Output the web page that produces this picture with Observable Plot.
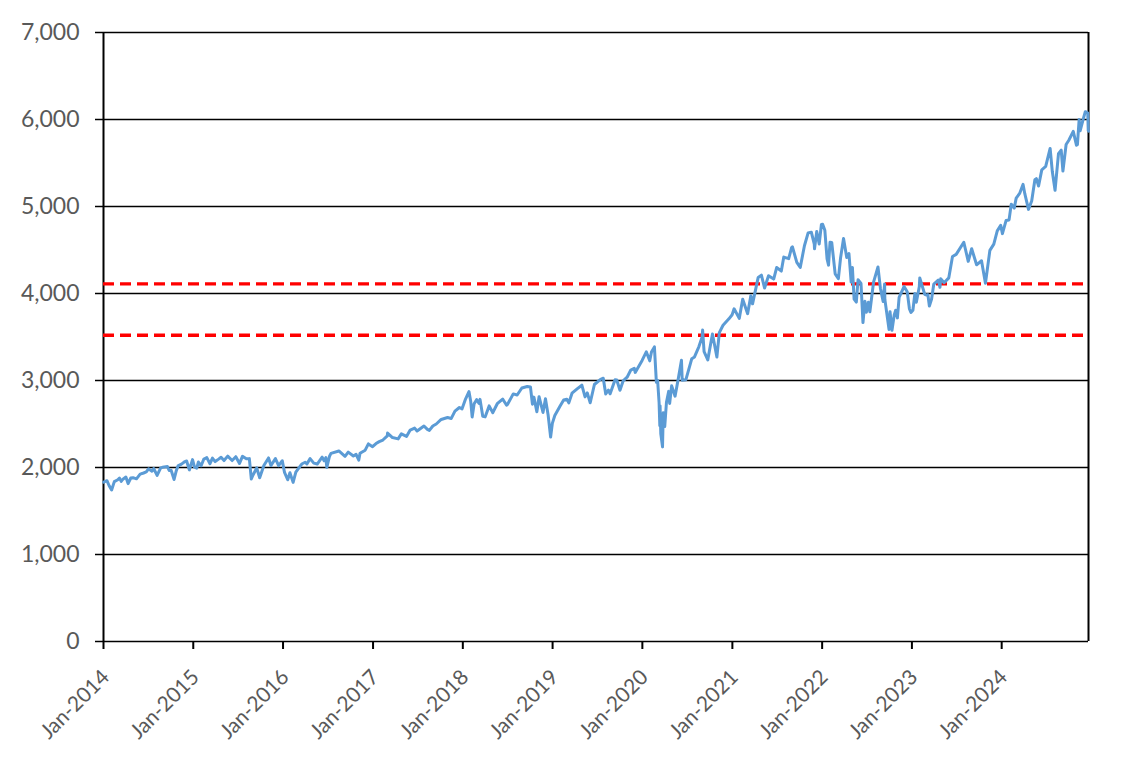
<!DOCTYPE html>
<html><head><meta charset="utf-8">
<script src="https://cdn.jsdelivr.net/npm/d3@7"></script>
<script src="https://cdn.jsdelivr.net/npm/@observablehq/plot@0.6"></script>
<style>body{margin:0;background:#fff}</style>
</head><body><div id="chart"></div>
<script>
const dates = [
"2014-01-02","2014-01-15","2014-01-24","2014-02-03","2014-02-14","2014-02-28","2014-03-07","2014-03-14","2014-03-21","2014-04-02","2014-04-11","2014-04-22","2014-05-01","2014-05-15","2014-05-30","2014-06-13","2014-06-24","2014-07-03","2014-07-17","2014-07-24","2014-08-07","2014-08-21","2014-08-29","2014-09-18","2014-09-25","2014-10-03","2014-10-15","2014-10-24","2014-10-31","2014-11-14","2014-11-28","2014-12-05","2014-12-16","2014-12-29",
"2015-01-06","2015-01-15","2015-01-22","2015-02-02","2015-02-13","2015-02-25","2015-03-10","2015-03-20","2015-03-31","2015-04-14","2015-04-24","2015-05-06","2015-05-21","2015-06-08","2015-06-23","2015-07-08","2015-07-20","2015-08-05","2015-08-17","2015-08-25","2015-09-01","2015-09-16","2015-09-28","2015-10-15","2015-11-03","2015-11-13","2015-12-01","2015-12-14","2015-12-29",
"2016-01-07","2016-01-20","2016-01-29","2016-02-11","2016-02-22","2016-03-01","2016-03-17","2016-03-31","2016-04-07","2016-04-20","2016-05-05","2016-05-19","2016-06-08","2016-06-16","2016-06-23","2016-06-27","2016-07-08","2016-07-14","2016-08-15","2016-09-09","2016-09-22","2016-10-13","2016-10-24","2016-11-04","2016-11-09","2016-11-30","2016-12-13","2016-12-30",
"2017-01-13","2017-01-26","2017-02-10","2017-02-28","2017-03-01","2017-03-21","2017-04-13","2017-04-26","2017-05-17","2017-06-01","2017-06-19","2017-06-29","2017-07-27","2017-08-10","2017-08-18","2017-09-01","2017-09-15","2017-10-05","2017-10-31","2017-11-15","2017-11-30","2017-12-18","2017-12-29",
"2018-01-12","2018-01-26","2018-02-02","2018-02-08","2018-02-16","2018-02-26","2018-03-08","2018-03-12","2018-03-23","2018-04-02","2018-04-18","2018-05-03","2018-05-21","2018-06-12","2018-06-28","2018-07-02","2018-07-25","2018-08-10","2018-08-29","2018-09-20","2018-10-03","2018-10-11","2018-10-17","2018-10-29","2018-11-07","2018-11-23","2018-12-03","2018-12-14","2018-12-24","2018-12-31",
"2019-01-10","2019-01-31","2019-02-15","2019-02-28","2019-03-08","2019-03-21","2019-04-12","2019-04-30","2019-05-13","2019-05-22","2019-06-03","2019-06-20","2019-07-15","2019-07-26","2019-08-05","2019-08-16","2019-08-23","2019-09-12","2019-09-19","2019-10-02","2019-10-15","2019-10-31","2019-11-15","2019-11-29","2019-12-03","2019-12-31",
"2020-01-17","2020-01-31","2020-02-07","2020-02-19","2020-02-27","2020-03-03","2020-03-09","2020-03-12","2020-03-13","2020-03-16","2020-03-23","2020-03-26","2020-04-01","2020-04-08","2020-04-17","2020-04-21","2020-04-29","2020-05-13","2020-05-27","2020-06-08","2020-06-11","2020-06-26","2020-07-20","2020-07-31","2020-08-18","2020-08-31","2020-09-02","2020-09-08","2020-09-23","2020-10-12","2020-10-30","2020-11-09","2020-11-24","2020-12-18","2020-12-31",
"2021-01-08","2021-01-29","2021-02-12","2021-03-04","2021-03-17","2021-03-24","2021-04-16","2021-04-29","2021-05-12","2021-05-28","2021-06-18","2021-06-30","2021-07-19","2021-07-29","2021-08-18","2021-08-30","2021-09-02","2021-09-20","2021-10-04","2021-10-21","2021-11-05","2021-11-18","2021-11-30","2021-12-01","2021-12-10","2021-12-20","2021-12-29",
"2022-01-03","2022-01-12","2022-01-21","2022-01-27","2022-02-02","2022-02-09","2022-02-23","2022-03-08","2022-03-17","2022-03-29","2022-04-11","2022-04-20","2022-04-29","2022-05-04","2022-05-11","2022-05-20","2022-05-27","2022-06-08","2022-06-16","2022-06-24","2022-06-30","2022-07-08","2022-07-14","2022-07-29","2022-08-16","2022-08-26","2022-09-06","2022-09-12","2022-09-13","2022-09-30","2022-10-04","2022-10-12","2022-10-21","2022-10-27","2022-11-03","2022-11-10","2022-11-30","2022-12-13","2022-12-22","2022-12-28",
"2023-01-05","2023-01-13","2023-01-19","2023-01-31","2023-02-02","2023-02-22","2023-03-02","2023-03-07","2023-03-13","2023-03-22","2023-03-31","2023-04-18","2023-04-25","2023-04-28","2023-05-12","2023-05-31","2023-06-15","2023-06-30","2023-07-31","2023-08-18","2023-09-01","2023-09-21","2023-10-11","2023-10-27","2023-11-14","2023-11-30","2023-12-14","2023-12-28",
"2024-01-04","2024-01-19","2024-01-31","2024-02-09","2024-02-21","2024-02-29","2024-03-14","2024-03-28","2024-04-04","2024-04-19","2024-05-02","2024-05-15","2024-05-21","2024-05-30","2024-06-12","2024-06-28","2024-07-16","2024-07-25","2024-08-05","2024-08-19","2024-08-30","2024-09-06","2024-09-19","2024-09-30","2024-10-18","2024-10-31","2024-11-04","2024-11-11","2024-11-15","2024-11-27","2024-12-06","2024-12-16","2024-12-18","2024-12-19"
];
const values = [
1832,1848,1790,1742,1838,1859,1878,1841,1866,1890,1815,1879,1883,1870,1924,1937,1949,1985,1958,1988,1910,1992,2003,2011,1966,1968,1862,1964,2018,2039,2068,2075,1972,2091,
2003,1992,2063,2020,2097,2113,2044,2108,2068,2096,2117,2080,2131,2080,2124,2047,2128,2100,2102,1868,1914,1995,1882,2023,2110,2023,2102,2021,2078,
1943,1859,1940,1829,1946,1978,2040,2060,2041,2102,2050,2040,2119,2077,2113,2001,2130,2163,2190,2128,2177,2132,2151,2085,2163,2199,2271,2239,
2275,2297,2316,2364,2396,2344,2329,2387,2357,2430,2453,2419,2477,2438,2426,2477,2500,2552,2575,2564,2648,2690,2674,
2786,2873,2762,2581,2732,2780,2738,2783,2588,2582,2708,2630,2733,2787,2716,2726,2846,2833,2914,2931,2925,2728,2809,2641,2814,2633,2790,2600,2351,2507,
2597,2704,2775,2784,2743,2854,2907,2946,2812,2857,2744,2954,3014,3026,2845,2889,2847,3009,3006,2887,2996,3038,3120,3141,3093,3231,
3330,3226,3328,3386,2979,3003,2747,2481,2711,2386,2237,2630,2471,2750,2875,2737,2939,2820,3036,3232,3002,3009,3251,3271,3390,3500,3580,3332,3237,3535,3270,3550,3635,3709,3756,
3824,3714,3934,3768,3974,3881,4185,4211,4063,4204,4166,4298,4258,4419,4400,4529,4537,4358,4300,4549,4697,4705,4567,4513,4712,4568,4793,
4796,4726,4398,4326,4589,4587,4225,4170,4411,4631,4413,4459,4132,4300,3935,3901,4158,4115,3666,3912,3785,3899,3790,4130,4305,4058,3908,4110,3932,3586,3791,3577,3753,3807,3720,3956,4080,4019,3822,3783,
3808,3999,3899,4077,4179,3991,3982,3986,3855,3937,4109,4155,4071,4169,4124,4180,4426,4450,4589,4370,4515,4330,4376,4117,4496,4568,4720,4783,
4688,4840,4846,5027,4981,5096,5150,5254,5147,4967,5064,5308,5321,5236,5421,5460,5667,5399,5186,5608,5648,5408,5713,5762,5864,5705,5712,6001,5870,5999,6090,6074,5872,5867
];
const yTicks = [0,1000,2000,3000,4000,5000,6000,7000];
const tickYears = [2014,2015,2016,2017,2018,2019,2020,2021,2022,2023,2024];
const refLevels = [4110,3520];

const data = dates.map((d,i)=>({date:new Date(d+"T00:00:00Z"), value:values[i]}));
const xTicks = tickYears.map(y=>new Date(Date.UTC(y,0,1)));
const x0 = new Date(Date.UTC(2014,0,1));
const x1 = data[data.length-1].date;

const chart = Plot.plot({
  width:1143, height:769,
  marginLeft:103, marginRight:55, marginTop:32, marginBottom:128,
  style:{fontFamily:"Lato, 'Open Sans', sans-serif", background:"#fff", overflow:"visible"},
  x:{type:"utc", domain:[x0,x1], label:null},
  y:{domain:[0,7000], label:null},
  marks:[
    Plot.ruleY(yTicks, {stroke:"#000", strokeWidth:1.5}),
    Plot.ruleX([x0, x1], {stroke:"#000", strokeWidth:2}),
    Plot.axisY({ticks:yTicks, tickFormat:d3.format(","), tickSize:8, tickPadding:16, fontSize:23, fill:"#595959", stroke:"#000", strokeWidth:1.5, label:null}),
    Plot.axisX({ticks:xTicks, tickFormat:()=>"", tickSize:8, stroke:"#000", strokeWidth:2, label:null}),
    Plot.text(xTicks, {x:d=>d, text:d=>"Jan-"+d.getUTCFullYear(), frameAnchor:"bottom", rotate:-45, textAnchor:"end", lineAnchor:"bottom", dx:7, dy:37, fontSize:21, fill:"#595959"}),
    Plot.ruleY(refLevels, {stroke:"#FF0000", strokeWidth:3.3, strokeDasharray:"11,6"}),
    Plot.lineY(data, {x:"date", y:"value", stroke:"#5B9BD5", strokeWidth:3})
  ]
});
document.getElementById("chart").appendChild(chart);
</script>
</body></html>
